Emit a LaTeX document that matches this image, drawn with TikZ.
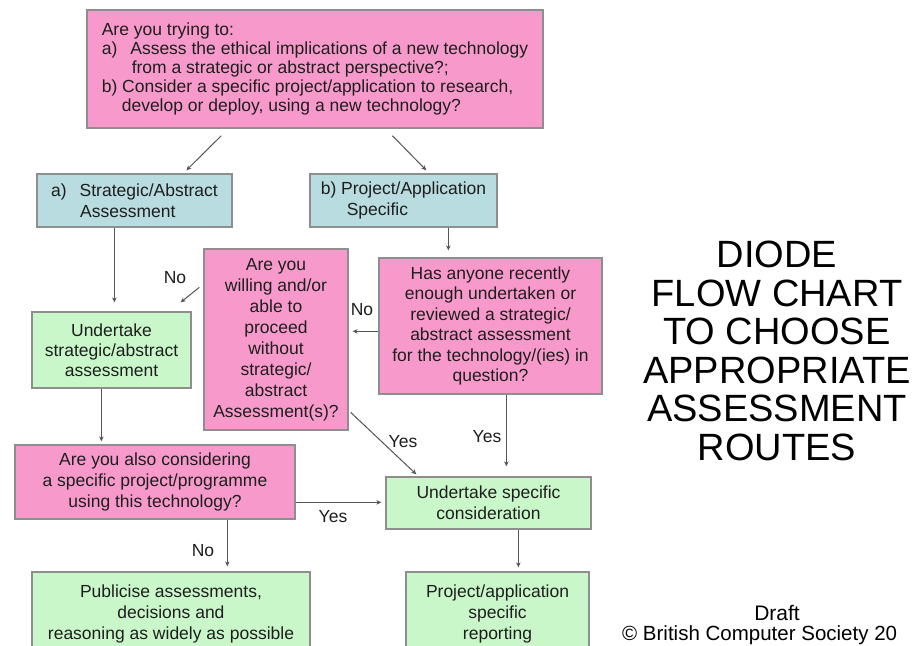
\documentclass[tikz,border=0pt]{standalone}
\usepackage{fontspec}
\setmainfont{Liberation Sans}
\usetikzlibrary{arrows.meta,calc}
\definecolor{pinkfill}{HTML}{F79ACB}
\definecolor{bluefill}{HTML}{B8DCE0}
\definecolor{greenfill}{HTML}{C9F7C9}
\definecolor{boxline}{HTML}{8E8E8E}
\definecolor{linegray}{HTML}{555555}
\definecolor{txt}{HTML}{1E1E1E}
\tikzset{
  box/.style={draw=boxline, line width=1.3pt, inner sep=0pt, text=txt,
    font=\fontsize{17.5}{21}\selectfont, align=center},
  pinkbox/.style={box, fill=pinkfill},
  bluebox/.style={box, fill=bluefill},
  greenbox/.style={box, fill=greenfill},
  arr/.style={draw=linegray, line width=1pt, -{Stealth[length=5pt,width=4.5pt]}},
  lbl/.style={text=txt, font=\fontsize{17.5}{21}\selectfont, inner sep=0pt},
}
\begin{document}
\begin{tikzpicture}[x=1pt,y=-1pt]
\clip (0,0) rectangle (912,645);
\fill[white] (0,0) rectangle (912,645);

% boxes
\node[pinkbox, align=left, font=\fontsize{17.5}{19}\selectfont,
      minimum width=456pt, minimum height=118pt] (top) at (315,69)
  {Are you trying to:\\
   a)\hspace{13pt}Assess the ethical implications of a new technology\\
   \hspace*{30pt}from a strategic or abstract perspective?;\\
   b) Consider a specific project/application to research,\\
   \hspace*{20pt}develop or deploy, using a new technology?};

\node[bluebox, align=left, minimum width=195pt, minimum height=53pt] (a) at (134.5,200.5)
  {a)\hspace{13pt}Strategic/Abstract\\ \hspace*{29pt}Assessment};
\node[bluebox, align=left, minimum width=187pt, minimum height=53pt] (b) at (403.5,200.5)
  {b) Project/Application\\ \hspace*{26pt}Specific};

\node[pinkbox, minimum width=144pt, minimum height=181pt] (willing) at (276,339.5)
  {Are you\\ willing and/or\\ able to\\ proceed\\ without\\ strategic/\\ abstract\\ Assessment(s)?};
\node[pinkbox, font=\fontsize{17.5}{20.5}\selectfont, minimum width=223pt, minimum height=136pt] (has) at (490.5,326)
  {Has anyone recently\\ enough undertaken or\\ reviewed a strategic/\\ abstract assessment\\ for the technology/(ies) in\\ question?};

\node[greenbox, font=\fontsize{17.5}{20}\selectfont, minimum width=159pt, minimum height=76pt] (ustrat) at (111.5,350)
  {Undertake\\ strategic/abstract\\ assessment};
\node[pinkbox, minimum width=280pt, minimum height=74pt] (also) at (155,482)
  {Are you also considering\\ a specific project/programme\\ using this technology?};
\node[greenbox, minimum width=205pt, minimum height=52pt] (uspec) at (488.5,503)
  {Undertake specific\\ consideration};
\node[greenbox, minimum width=278pt, minimum height=83pt] (pub) at (171,613.5)
  {Publicise assessments,\\ decisions and\\ reasoning as widely as possible};
\node[greenbox, minimum width=183pt, minimum height=83pt] (proj) at (497.5,613.5)
  {Project/application\\ specific\\ reporting};

% connectors
\draw[arr] ($(top.south west)+(135,7)$) -- ($(a.north west)+(150,-3)$);
\draw[arr] ($(top.south west)+(306,7)$) -- ($(b.north west)+(117,-3)$);
\draw[arr] ($(a.south west)+(78,0)$) -- ($(ustrat.north west)+(83,-9)$);
\draw[arr] ($(b.south west)+(139,0)$) -- ($(has.north west)+(70,-7)$);
\draw[arr] ($(willing.north west)+(-4,39)$) -- ($(ustrat.north east)+(-11,-9)$);
\draw[arr] ($(has.north west)+(0,74)$) -- ($(willing.north east)+(4,83)$);
\draw[arr] ($(has.south west)+(128,0)$) -- ($(uspec.north west)+(121,-10)$);
\draw[arr] ($(willing.north east)+(2,164)$) -- ($(uspec.north west)+(31,-2)$);
\draw[arr] ($(ustrat.south west)+(70,0)$) -- ($(also.north west)+(87,-3)$);
\draw[arr] ($(also.north east)+(0,58)$) -- ($(uspec.north west)+(-4,26)$);
\draw[arr] ($(also.south west)+(213,0)$) -- ($(pub.north west)+(196,-5)$);
\draw[arr] ($(uspec.south west)+(133,0)$) -- ($(proj.north west)+(113,-4)$);

% labels
\node[lbl] (no1) at (175,278) {No};
\node[lbl] (no2) at (362,310) {No};
\node[lbl] (yes1) at (487,437) {Yes};
\node[lbl] (yes2) at (403,442) {Yes};
\node[lbl] (yes3) at (333,517) {Yes};
\node[lbl] (no3) at (203,551) {No};

% title
\node[inner sep=0pt, align=center, text=black, font=\fontsize{38}{38.5}\selectfont] (title) at (777,351)
  {DIODE\\FLOW CHART\\TO CHOOSE\\APPROPRIATE\\ASSESSMENT\\ROUTES};
\node[inner sep=0pt, text=black, font=\fontsize{21}{22}\selectfont] (draft) at (777,613) {Draft};
\node[inner sep=0pt, anchor=west, text=black, font=\fontsize{20.5}{22}\selectfont] (copy) at (622,635) {© British Computer Society 20};
\end{tikzpicture}
\end{document}
